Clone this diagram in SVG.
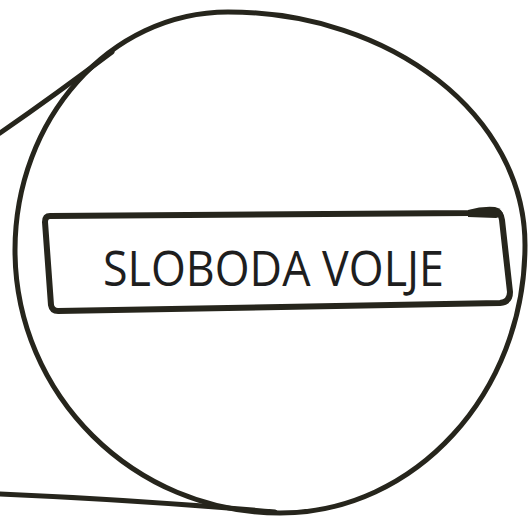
<svg xmlns="http://www.w3.org/2000/svg" width="530" height="523" viewBox="0 0 530 523">
<style>
.ink{fill:none;stroke:#26251c;stroke-width:5;stroke-linecap:round;stroke-linejoin:round}
.box{stroke-width:6}
.lbl{font-family:"Open Sans","Noto Sans",sans-serif;font-size:49px;fill:#1e1e1e}
</style>
<rect width="530" height="523" fill="#ffffff"/>
<g id="connectors">
<path class="ink" d="M0,133 Q55,95 112,52"/>
<path class="ink" d="M0,494 Q140,500 275,512"/>
</g>
<g id="circle">
<path class="ink" d="M228,12 C392,12 525,116 525,245 C525,393 415,513 280,513 C134,513 15,395 15,250 C15,119 110,12 228,12 Z"/>
</g>
<g id="label-box">
<path class="ink box" d="M50,216 L470,213 L494,211 Q501,212 502,220 L510,292 Q510,302 500,303 L58,311 Q52,311 51,305 L45,222 Q45,216 50,216 Z"/>
<path d="M468,210 Q482,206 495,207 Q503,209 503,216 L496,218 L468,217 Z" fill="#26251c"/>
<text class="lbl" x="103" y="286" textLength="341" lengthAdjust="spacingAndGlyphs">SLOBODA VOLJE</text>
</g>
</svg>
